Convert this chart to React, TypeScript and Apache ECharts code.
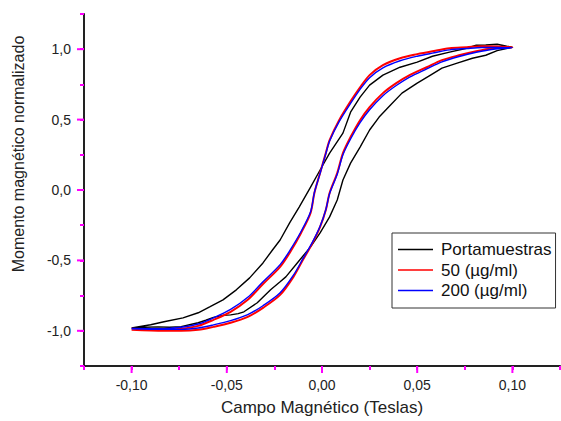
import React, { useEffect, useRef } from "react";
import * as echarts from "echarts";

// Portamuestras (black) loop: ascending branch then descending branch
const blackX = [
  -0.1, -0.093, -0.086, -0.08, -0.074, -0.069, -0.065, -0.061, -0.057, -0.052, -0.048, -0.044, -0.041, -0.034, -0.027, -0.022, -0.019, -0.013, -0.006, -0.001, 0.004, 0.008, 0.011, 0.015, 0.02, 0.025, 0.03, 0.036, 0.042, 0.05, 0.057, 0.063, 0.071, 0.079, 0.086, 0.092, 0.1,
  0.097, 0.092, 0.086, 0.081, 0.076, 0.067, 0.058, 0.05, 0.041, 0.032, 0.025, 0.02, 0.015, 0.011, 0.004, -0.001, -0.006, -0.012, -0.017, -0.022, -0.026, -0.031, -0.038, -0.045, -0.052, -0.059, -0.065, -0.073, -0.083, -0.09, -0.1,
];
const blackY = [
  -0.979, -0.975, -0.972, -0.975, -0.97, -0.955, -0.943, -0.925, -0.905, -0.89, -0.887, -0.878, -0.865, -0.801, -0.709, -0.652, -0.617, -0.518, -0.404, -0.305, -0.191, -0.071, 0.071, 0.191, 0.305, 0.426, 0.518, 0.603, 0.688, 0.759, 0.816, 0.865, 0.901, 0.936, 0.957, 0.99, 1.014,
  1.021, 1.035, 1.03, 1.028, 1.007, 0.979, 0.95, 0.908, 0.872, 0.816, 0.745, 0.66, 0.553, 0.404, 0.262, 0.142, 0.021, -0.121, -0.234, -0.355, -0.426, -0.518, -0.624, -0.709, -0.78, -0.83, -0.872, -0.908, -0.936, -0.957, -0.979,
];

// 50 (µg/ml) (red) loop
const redX = [
  -0.1, -0.083, -0.074, -0.065, -0.057, -0.048, -0.039, -0.031, -0.022, -0.015, -0.01, -0.005, -0.001, 0.002, 0.004, 0.008, 0.011, 0.015, 0.02, 0.025, 0.032, 0.039, 0.046, 0.055, 0.063, 0.072, 0.081, 0.09, 0.1,
  0.092, 0.084, 0.076, 0.067, 0.058, 0.05, 0.041, 0.032, 0.025, 0.02, 0.015, 0.009, 0.004, 0.002, -0.001, -0.004, -0.006, -0.011, -0.017, -0.022, -0.031, -0.039, -0.048, -0.057, -0.065, -0.074, -0.083, -0.1,
];
const redY = [
  -0.993, -1.0, -1.0, -0.993, -0.972, -0.943, -0.901, -0.837, -0.745, -0.617, -0.496, -0.376, -0.262, -0.142, -0.021, 0.121, 0.262, 0.376, 0.496, 0.589, 0.688, 0.759, 0.816, 0.872, 0.922, 0.957, 0.986, 1.007, 1.014,
  1.02, 1.021, 1.014, 1.007, 0.986, 0.965, 0.936, 0.887, 0.816, 0.73, 0.63, 0.496, 0.355, 0.262, 0.121, -0.021, -0.163, -0.305, -0.447, -0.546, -0.668, -0.78, -0.865, -0.922, -0.965, -0.986, -0.993, -0.986,
];

// 200 (µg/ml) (blue) loop
const blueX = [
  -0.1, -0.083, -0.074, -0.065, -0.057, -0.048, -0.039, -0.031, -0.022, -0.015, -0.01, -0.005, -0.001, 0.002, 0.004, 0.008, 0.011, 0.015, 0.02, 0.025, 0.032, 0.039, 0.046, 0.055, 0.063, 0.072, 0.081, 0.09, 0.1,
  0.092, 0.084, 0.076, 0.067, 0.058, 0.05, 0.041, 0.032, 0.025, 0.02, 0.015, 0.009, 0.004, 0.002, -0.001, -0.004, -0.006, -0.011, -0.017, -0.022, -0.031, -0.039, -0.048, -0.057, -0.065, -0.074, -0.083, -0.1,
];
const blueY = [
  -0.986, -0.99, -0.99, -0.98, -0.958, -0.928, -0.885, -0.822, -0.73, -0.605, -0.488, -0.37, -0.258, -0.14, -0.025, 0.112, 0.25, 0.362, 0.478, 0.57, 0.67, 0.742, 0.802, 0.86, 0.91, 0.948, 0.978, 1.0, 1.01,
  1.012, 1.012, 1.005, 0.995, 0.972, 0.95, 0.918, 0.868, 0.798, 0.715, 0.615, 0.485, 0.348, 0.258, 0.118, -0.018, -0.155, -0.295, -0.432, -0.53, -0.652, -0.762, -0.848, -0.908, -0.952, -0.975, -0.985, -0.984,
];

const seriesNames = ["Portamuestras", "50 (µg/ml)", "200 (µg/ml)"];
const yLabelValues = [-1, -0.5, 0, 0.5, 1];
const xLabelValues = [-0.1, -0.05, 0, 0.05, 0.1];

const X_MIN = -0.125;
const X_MAX = 0.125;
const X_STEP = 0.025;
const Y_MIN = -1.25;
const Y_MAX = 1.25;
const Y_STEP = 0.25;

const pairs = (xs: number[], ys: number[]) => xs.map((x, i) => [x, ys[i]]);
const fmt = (v: number, d: number) => (Math.abs(v) < 1e-9 ? 0 : v).toFixed(d).replace(".", ",");

const FONT = "Liberation Sans, Arial, sans-serif";
const AXIS_COLOR = "#222";
const TICK_COLOR = "#ff00ff";
const LINE_ICON =
  "path://M0,0 L0.01,0 L0,0.01 Z M0,7.75 L35,7.75 L35,9.25 L0,9.25 Z M0,17 L0.01,17 L0,16.99 Z";

const majorTickData: number[][] = [
  ...xLabelValues.map((v) => [v, Y_MIN, 0, 7]),
  ...yLabelValues.map((v) => [X_MIN, v, -7, 0]),
];

export default function App() {
  const ref = useRef<HTMLDivElement>(null);
  useEffect(() => {
    if (!ref.current) return;
    const chart = echarts.init(ref.current, undefined, { renderer: "svg" });

    chart.setOption({
      animation: false,
      backgroundColor: "#fff",
      textStyle: { fontFamily: FONT },
      grid: { left: 84, right: 1, top: 14, bottom: 55 },
      legend: {
        show: true,
        orient: "vertical",
        left: 392,
        top: 233,
        padding: [8, 4, 9, 6],
        itemGap: 3.5,
        itemWidth: 35,
        itemHeight: 17,
        borderColor: "#333",
        borderWidth: 1,
        borderRadius: 0,
        data: seriesNames.map((n) => ({ name: n, icon: LINE_ICON })),
        textStyle: { fontFamily: FONT, fontSize: 17, color: "#111", padding: [0, 0, 0, 3] },
      },
      xAxis: {
        type: "value",
        min: X_MIN,
        max: X_MAX,
        interval: X_STEP,
        axisLine: { show: true, onZero: false, lineStyle: { color: AXIS_COLOR, width: 2 } },
        splitLine: { show: false },
        axisTick: { show: true, length: 4, lineStyle: { color: TICK_COLOR, width: 2 } },
        axisLabel: {
          customValues: xLabelValues,
          formatter: (v: number) => fmt(v, 2),
          fontFamily: FONT,
          fontSize: 14,
          color: "#222",
          margin: 12,
        },
        name: "Campo Magnético (Teslas)",
        nameLocation: "middle",
        nameGap: 33,
        nameTextStyle: { fontFamily: FONT, fontSize: 17, color: "#222" },
      },
      yAxis: {
        type: "value",
        min: Y_MIN,
        max: Y_MAX,
        interval: Y_STEP,
        axisLine: { show: true, onZero: false, lineStyle: { color: AXIS_COLOR, width: 2 } },
        splitLine: { show: false },
        axisTick: { show: true, length: 4, lineStyle: { color: TICK_COLOR, width: 2 } },
        axisLabel: {
          customValues: yLabelValues,
          formatter: (v: number) => fmt(v, 1),
          fontFamily: FONT,
          fontSize: 14,
          color: "#222",
          margin: 13,
        },
        name: "Momento magnético normalizado",
        nameLocation: "middle",
        nameGap: 58,
        nameTextStyle: { fontFamily: FONT, fontSize: 16, color: "#222", padding: [0, 0, 0, 72] },
      },
      series: [
        {
          name: seriesNames[0],
          type: "line",
          symbol: "none",
          smooth: false,
          lineStyle: { color: "#000", width: 1.4 },
          itemStyle: { color: "#000" },
          data: pairs(blackX, blackY),
          z: 2,
        },
        {
          name: seriesNames[1],
          type: "line",
          symbol: "none",
          smooth: 0.3,
          lineStyle: { color: "#ff0000", width: 2 },
          itemStyle: { color: "#ff0000" },
          data: pairs(redX, redY),
          z: 3,
        },
        {
          name: seriesNames[2],
          type: "line",
          symbol: "none",
          smooth: 0.3,
          lineStyle: { color: "#0000ff", width: 1.4 },
          itemStyle: { color: "#0000ff" },
          data: pairs(blueX, blueY),
          z: 4,
        },
        {
          name: seriesNames[0],
          type: "custom",
          silent: true,
          clip: false,
          z: 10,
          data: majorTickData,
          renderItem: (params: any, api: any) => {
            const p = api.coord([api.value(0), api.value(1)]);
            return {
              type: "line",
              shape: { x1: p[0], y1: p[1], x2: p[0] + api.value(2), y2: p[1] + api.value(3) },
              style: { stroke: TICK_COLOR, lineWidth: 2 },
            };
          },
        },
      ],
    });
    return () => chart.dispose();
  }, []);
  return <div ref={ref} style={{ width: 561, height: 421, position: "fixed", left: 0, top: 0 }} />;
}
